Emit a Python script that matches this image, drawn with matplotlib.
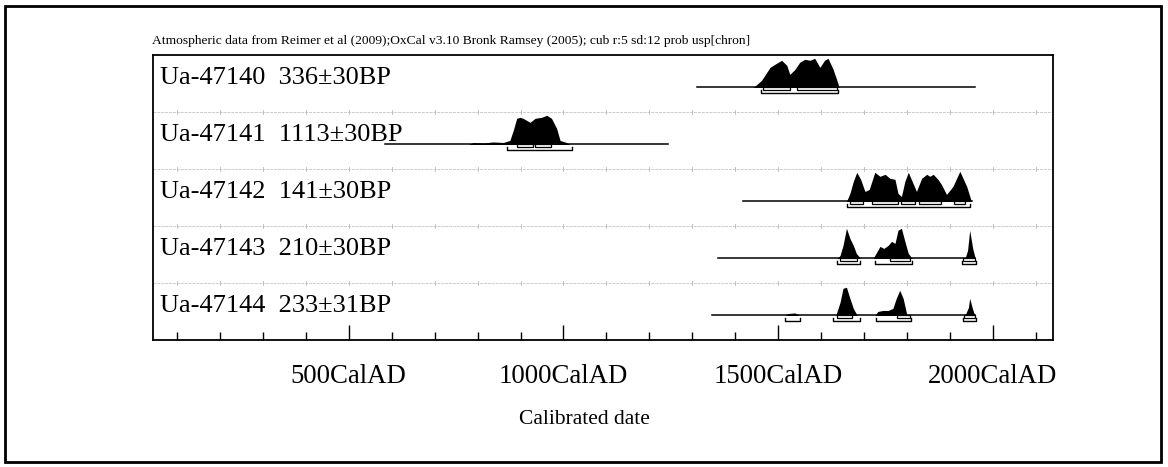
import matplotlib.pyplot as plt
import matplotlib
from matplotlib.patches import Rectangle
import numpy as np

matplotlib.rcParams['font.family'] = ['Liberation Serif', 'DejaVu Serif']

title = ("Atmospheric data from Reimer et al (2009);OxCal v3.10 Bronk Ramsey (2005); "
         "cub r:5 sd:12 prob usp[chron]")

labels = ["Ua-47140  336\u00b130BP", "Ua-47141  1113\u00b130BP", "Ua-47142  141\u00b130BP",
          "Ua-47143  210\u00b130BP", "Ua-47144  233\u00b131BP"]

# extent of the plotted likelihood line (cal years AD)
spans = [(1311, 1958), (584, 1243), (1418, 1951), (1360, 1958), (1346, 1958)]

# probability curves: years and relative height (30 = tallest peak)
yr_47140 = [1442, 1461, 1481, 1492, 1508, 1520, 1527, 1539, 1550, 1562, 1574, 1585,
            1597, 1608, 1616, 1628, 1636, 1642]
p_47140 = [0, 7, 20, 23, 27, 22, 13, 18, 25, 28, 27, 29, 20, 27, 29, 18, 8, 0]

yr_47141 = [778, 790, 813, 836, 860, 875, 883, 891, 899, 906, 914, 922, 934, 949,
            961, 972, 984, 992, 1007, 1015]
p_47141 = [0, 2, 1.5, 2.5, 2, 4, 14, 26, 27, 26, 24, 22, 26, 27, 29, 26, 16, 4, 2, 0]

yr_47142 = [1659, 1667, 1675, 1683, 1692, 1702, 1712, 1725, 1737, 1749, 1760, 1772,
            1779, 1787, 1795, 1803, 1814, 1822, 1834, 1846, 1853, 1861, 1872, 1880,
            1892, 1907, 1923, 1939, 1950]
p_47142 = [0, 8, 20, 29, 22, 10, 12, 29, 25, 27, 23, 22, 8, 5, 20, 29, 18, 10, 23,
           27, 25, 27, 22, 17, 7, 15, 30, 15, 0]

yr_47143 = [1637, 1644, 1651, 1659, 1667, 1675, 1682, 1692, 1721, 1729, 1737, 1746,
            1756, 1764, 1772, 1779, 1787, 1795, 1803, 1812, 1935, 1941, 1946, 1953, 1959]
p_47143 = [0, 3, 13, 30, 20, 13, 5, 0, 0, 6, 12, 10, 13, 17, 15, 28, 30, 17, 5, 0,
           0, 8, 28, 10, 0]

yr_47144 = [1516, 1523, 1539, 1550, 1634, 1644, 1651, 1659, 1667, 1675, 1684, 1725,
            1732, 1744, 1756, 1767, 1775, 1783, 1791, 1800, 1935, 1943, 1946, 1953, 1958]
p_47144 = [0, 2, 2.5, 0, 0, 13, 27, 28, 17, 7, 0, 0, 4, 5, 5, 7, 17, 25, 17, 0,
           0, 8, 17, 6, 0]

curves = [(yr_47140, p_47140), (yr_47141, p_47141), (yr_47142, p_47142),
          (yr_47143, p_47143), (yr_47144, p_47144)]

# 68.2% and 95.4% ranges
ranges_68 = [
    [(1464, 1527), (1543, 1636)],
    [(891, 930), (934, 972)],
    [(1667, 1697), (1718, 1779), (1786, 1818), (1828, 1879), (1909, 1935)],
    [(1644, 1684), (1760, 1807), (1930, 1958)],
    [(1637, 1672), (1776, 1807), (1932, 1958)],
]
ranges_95 = [
    [(1461, 1640)],
    [(868, 1019)],
    [(1660, 1946)],
    [(1637, 1690), (1725, 1811), (1928, 1960)],
    [(1516, 1551), (1628, 1690), (1727, 1809), (1930, 1960)],
]

fig = plt.figure(figsize=(11.68, 4.67), dpi=100)
ax = fig.add_axes([153 / 1168, 1 - 340 / 467, 900 / 1168, 285 / 467])
ax.set_xlim(44, 2140)
ax.set_ylim(5, 0)

px = 1 / 57.0  # one pixel in row units
for i in range(5):
    base = i + 0.57
    yr, p = curves[i]
    h = np.array(p, dtype=float) / 30.0 * 0.53
    ax.plot(spans[i], [base, base], color='black', lw=1.1)
    ax.fill_between(yr, base, base - h, color='black', lw=0)
    ax.text(60, i + 0.40, labels[i], fontsize=19, va='center', ha='left')
    for a, b in ranges_68[i]:
        ax.add_patch(Rectangle((a, base), b - a, 2.5 * px, fill=False,
                               edgecolor='black', lw=0.9))
    for a, b in ranges_95[i]:
        yb = base + 6 * px
        ax.plot([a, a, b, b], [yb - 3 * px, yb, yb, yb - 3 * px], color='black', lw=1.0)

# faint separators between rows
for i in range(1, 5):
    ax.axhline(i, color='0.8', lw=0.7, ls=(0, (3, 1)))
    for t in np.arange(100, 2200, 100):
        ax.plot([t, t], [i - 2 * px, i + 2 * px], color='0.72', lw=0.6)

ax.set_yticks([])
ax.set_xticks([500, 1000, 1500, 2000])
ax.set_xticks(np.arange(100, 2200, 100), minor=True)
ax.set_xticklabels(["500CalAD", "1000CalAD", "1500CalAD", "2000CalAD"], fontsize=19.3)
ax.tick_params(axis='x', which='major', direction='in', length=11, width=1.0, pad=17)
ax.tick_params(axis='x', which='minor', direction='in', length=6, width=1.0)
ax.set_xlabel("Calibrated date", fontsize=15.5)
ax.xaxis.set_label_coords(0.479, -0.245)
for s in ax.spines.values():
    s.set_linewidth(1.3)

fig.text(152 / 1168, 1 - 41 / 467, title, fontsize=9.7, va='center', ha='left')

fig.add_artist(Rectangle((5 / 1168, 5 / 467), 1156 / 1168, 456 / 467, fill=False,
                         edgecolor='black', lw=2.0, transform=fig.transFigure))

fig.savefig("out.png", dpi=100)
